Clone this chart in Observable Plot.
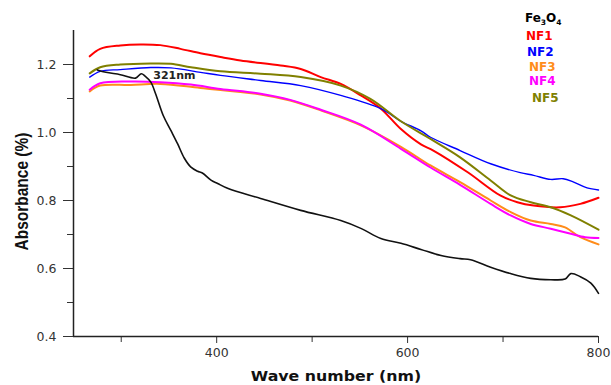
<!DOCTYPE html>
<html>
<head>
<meta charset="utf-8">
<script src="https://cdn.jsdelivr.net/npm/d3@7"></script>
<script src="https://cdn.jsdelivr.net/npm/@observablehq/plot@0.6"></script>
<style>
  body { margin: 0; background: #fff; }
  #wrap { position: relative; width: 611px; height: 385px; }
  #legend { position: absolute; left: 0; top: 0; font-family: "DejaVu Sans", sans-serif; font-weight: bold; font-size: 12px; }
  #legend div { position: absolute; white-space: nowrap; line-height: 1; }
  #legend sub { font-size: 7.5px; vertical-align: -3px; }
</style>
</head>
<body>
<div id="wrap"><div id="legend"></div></div>
<script>
// Series values (wavelength nm, absorbance)
const nf1X = [267, 278, 299, 320, 341, 362, 383, 404, 425, 467, 488, 509, 530, 551, 572, 593, 614, 627, 663, 697, 715, 732, 760, 781, 800];
const nf1Y = [1.224, 1.246, 1.256, 1.259, 1.257, 1.246, 1.233, 1.222, 1.212, 1.197, 1.187, 1.163, 1.143, 1.109, 1.070, 1.010, 0.965, 0.947, 0.883, 0.815, 0.795, 0.785, 0.780, 0.790, 0.808];
const nf2X = [267, 278, 299, 331, 352, 383, 404, 446, 488, 530, 572, 593, 614, 624, 655, 687, 718, 732, 750, 763, 774, 788, 800];
const nf2Y = [1.163, 1.180, 1.185, 1.191, 1.190, 1.177, 1.168, 1.153, 1.138, 1.109, 1.070, 1.033, 1.005, 0.986, 0.947, 0.908, 0.882, 0.874, 0.862, 0.864, 0.854, 0.837, 0.831];
const nf3X = [267, 278, 310, 341, 383, 446, 477, 509, 551, 593, 624, 655, 687, 708, 729, 750, 765, 781, 800];
const nf3Y = [1.121, 1.138, 1.140, 1.143, 1.131, 1.112, 1.094, 1.065, 1.021, 0.958, 0.903, 0.854, 0.800, 0.766, 0.741, 0.731, 0.721, 0.692, 0.671];
const nf4X = [267, 278, 310, 341, 373, 404, 446, 477, 509, 551, 593, 624, 655, 687, 708, 729, 750, 771, 786, 800];
const nf4Y = [1.126, 1.145, 1.150, 1.148, 1.141, 1.128, 1.114, 1.096, 1.067, 1.023, 0.952, 0.897, 0.846, 0.790, 0.756, 0.731, 0.717, 0.702, 0.692, 0.690];
const nf5X = [267, 278, 299, 331, 352, 373, 404, 446, 488, 530, 561, 593, 624, 655, 687, 708, 729, 750, 771, 800];
const nf5Y = [1.174, 1.192, 1.200, 1.203, 1.202, 1.192, 1.180, 1.173, 1.163, 1.138, 1.099, 1.033, 0.981, 0.927, 0.859, 0.815, 0.795, 0.780, 0.756, 0.714];
const feX = [275, 284, 299, 315, 321, 325, 331, 336, 344, 352, 359, 366, 373, 380, 385, 394, 401, 412, 446, 488, 530, 551, 572, 593, 614, 635, 655, 666, 687, 708, 729, 750, 765, 771, 781, 792, 800];
const feY = [1.184, 1.177, 1.170, 1.160, 1.173, 1.166, 1.148, 1.114, 1.050, 1.006, 0.967, 0.925, 0.898, 0.886, 0.881, 0.860, 0.850, 0.835, 0.806, 0.771, 0.741, 0.718, 0.688, 0.674, 0.656, 0.638, 0.629, 0.626, 0.604, 0.585, 0.571, 0.567, 0.569, 0.585, 0.576, 0.557, 0.527];

const seriesNames = ["Fe3O4", "NF1", "NF2", "NF3", "NF4", "NF5"];
const seriesColors = ["#000000", "#ff0000", "#0000ff", "#ff8c1a", "#ff00ff", "#808000"];
const yTicks = [0.4, 0.6, 0.8, 1.0, 1.2];
const yMinor = [0.5, 0.7, 0.9, 1.1];
const xTicks = [400, 600, 800];
const xMinor = [300, 500, 700];
const peakLabel = {x: 321, y: 1.173, text: "321nm"};
const xTitle = "Wave number (nm)";
const yTitle = "Absorbance (%)";

const rows = [];
const add = (name, xs, ys) => xs.forEach((x, i) => rows.push({series: name, x, y: ys[i]}));
add("NF1", nf1X, nf1Y);
add("NF2", nf2X, nf2Y);
add("NF3", nf3X, nf3Y);
add("NF4", nf4X, nf4Y);
add("NF5", nf5X, nf5Y);
const feRows = feX.map((x, i) => ({x, y: feY[i]}));

const chart = Plot.plot({
  width: 611,
  height: 385,
  marginLeft: 73,
  marginRight: 13,
  marginTop: 30,
  marginBottom: 49,
  style: {fontFamily: "DejaVu Sans, sans-serif", background: "#fff"},
  x: {domain: [250, 800]},
  y: {domain: [0.4, 1.3]},
  color: {domain: seriesNames, range: seriesColors},
  marks: [
    Plot.axisY({ticks: yTicks, tickSize: 10, tickPadding: 7, tickFormat: d3.format(".1f"), fontSize: 12.5, color: "#333", label: null}),
    Plot.axisY({ticks: yMinor, tickSize: 6, tickFormat: () => "", label: null, color: "#333"}),
    Plot.axisX({ticks: xTicks, tickSize: 7, tickPadding: 5, fontSize: 12.5, color: "#333", label: null}),
    Plot.axisX({ticks: xMinor, tickSize: 6, tickFormat: () => "", label: null, color: "#333"}),
    Plot.ruleX([250], {stroke: "#222", strokeWidth: 1.5}),
    Plot.ruleY([0.4], {stroke: "#222", strokeWidth: 1.5}),
    Plot.line(rows, {x: "x", y: "y", z: "series", stroke: "series", strokeWidth: d => d.series === "NF2" ? 1.4 : 2, curve: "catmull-rom"}),
    Plot.line(feRows, {x: "x", y: "y", stroke: "#111", strokeWidth: 1.6, curve: "catmull-rom"}),
    Plot.text([peakLabel], {x: "x", y: "y", text: "text", dx: 12, dy: 2, textAnchor: "start", fontWeight: "bold", fontSize: 11, fill: "#222"}),
    Plot.text([xTitle], {frameAnchor: "bottom", dy: 40, textAnchor: "middle", lineAnchor: "middle", fontWeight: "bold", fontSize: 13.5, fill: "#111", className: "xtitle"}),
    Plot.text([yTitle], {frameAnchor: "left", dx: -51, dy: 8, rotate: -90, textAnchor: "middle", lineAnchor: "middle", fontWeight: "bold", fontSize: 15.5, fill: "#111", fontFamily: "Liberation Sans, Arial, sans-serif", className: "ytitle"})
  ]
});
// the reference's lettering is horizontally widened; stretch the titles to match
chart.querySelectorAll(".xtitle text").forEach(t => t.setAttribute("transform", t.getAttribute("transform") + " scale(1.17,1)"));
chart.querySelectorAll(".ytitle text").forEach(t => t.setAttribute("transform", t.getAttribute("transform") + " scale(1,1.18)"));
document.getElementById("wrap").prepend(chart);

// Legend (text-only, coloured)
const legendPos = [[525, 12], [526, 30], [527, 46], [529, 61], [529, 75], [532, 92]];
const legend = document.getElementById("legend");
seriesNames.forEach((name, i) => {
  const d = document.createElement("div");
  d.style.left = legendPos[i][0] + "px";
  d.style.top = legendPos[i][1] + "px";
  d.style.color = seriesColors[i];
  d.innerHTML = name === "Fe3O4" ? "Fe<sub>3</sub>O<sub>4</sub>" : name;
  legend.appendChild(d);
});
</script>
</body>
</html>
